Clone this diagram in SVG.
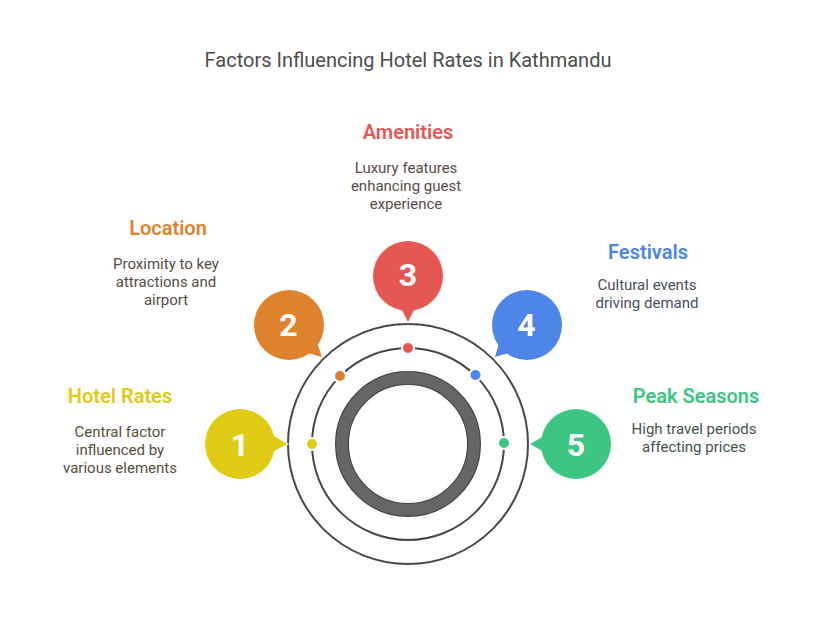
<svg xmlns="http://www.w3.org/2000/svg" width="816" height="624" viewBox="0 0 816 624">
<style>
text{font-family:Roboto,"Liberation Sans",sans-serif;text-anchor:middle}
.t{font-size:20px;fill:#4d4d4d}
.h{font-size:20px;font-weight:600}
.d{font-size:15px}
.n{font-size:32px;font-weight:700;fill:#fff}
.ring{fill:none;stroke:#484848;stroke-width:2}
.dot{stroke:#fff;stroke-width:2}
.tail{stroke:#fff;stroke-width:1.500;paint-order:stroke;stroke-linejoin:miter}
</style>
<rect width="816" height="624" fill="#fff"/>
<text class="t" x="408" y="66.500">Factors Influencing Hotel Rates in Kathmandu</text>
<g id="connectors">
<circle class="ring" cx="408" cy="444" r="120"/>
<circle class="ring" cx="408" cy="444" r="96"/>
<circle cx="408" cy="444" r="66" fill="none" stroke="#484848" stroke-width="14"/>
<circle cx="408" cy="444" r="66" fill="none" stroke="#666" stroke-width="11.500"/>
</g>
<g id="node-1">
<path class="tail" d="M287.500 444L272 452V435Z" fill="#E0CB15"/>
<circle cx="240" cy="444" r="35" fill="#E0CB15"/>
<circle class="dot" cx="312" cy="444" r="6" fill="#E0CB15"/>
<text class="n" x="240" y="455.500">1</text>
<text class="h" x="120" y="402.500" fill="#E0CB15">Hotel Rates</text>
<text class="d" fill="#55503a"><tspan x="120" y="437">Central factor</tspan><tspan x="120" y="455">influenced by</tspan><tspan x="120" y="473">various elements</tspan></text>
</g>
<g id="node-2">
<path class="tail" d="M322 357L304 352L316 340Z" fill="#DF822E"/>
<circle cx="289" cy="325" r="35" fill="#DF822E"/>
<circle class="dot" cx="340" cy="376" r="6" fill="#DF822E"/>
<text class="n" x="288.500" y="336">2</text>
<text class="h" x="168" y="234.500" fill="#DF822E">Location</text>
<text class="d" fill="#574c43"><tspan x="166" y="269">Proximity to key</tspan><tspan x="166" y="287">attractions and</tspan><tspan x="166" y="305">airport</tspan></text>
</g>
<g id="node-3">
<path class="tail" d="M408 322L400 306H416Z" fill="#E55753"/>
<circle cx="408" cy="276" r="35" fill="#E55753"/>
<circle class="dot" cx="408" cy="348" r="6" fill="#E55753"/>
<text class="n" x="408" y="285.500">3</text>
<text class="h" x="408" y="138.500" fill="#E55753">Amenities</text>
<text class="d" fill="#5c4a49"><tspan x="406" y="173">Luxury features</tspan><tspan x="406" y="191">enhancing guest</tspan><tspan x="406" y="209">experience</tspan></text>
</g>
<g id="node-4">
<path class="tail" d="M495 357L500 340L512 352Z" fill="#4D86E8"/>
<circle cx="527" cy="325" r="35" fill="#4D86E8"/>
<circle class="dot" cx="475.500" cy="375" r="6" fill="#4D86E8"/>
<text class="n" x="526.500" y="336">4</text>
<text class="h" x="648" y="258.500" fill="#4D86E8">Festivals</text>
<text class="d" fill="#47505f"><tspan x="647" y="289.500">Cultural events</tspan><tspan x="647" y="307.500">driving demand</tspan></text>
</g>
<g id="node-5">
<path class="tail" d="M530 444L546 435V453Z" fill="#3CC583"/>
<circle cx="576" cy="444" r="35" fill="#3CC583"/>
<circle class="dot" cx="504" cy="443" r="6" fill="#3CC583"/>
<text class="n" x="576" y="455.500">5</text>
<text class="h" x="696" y="402.500" fill="#3CC583">Peak Seasons</text>
<text class="d" fill="#44524c"><tspan x="694" y="433.500">High travel periods</tspan><tspan x="694" y="451.500">affecting prices</tspan></text>
</g>
</svg>
